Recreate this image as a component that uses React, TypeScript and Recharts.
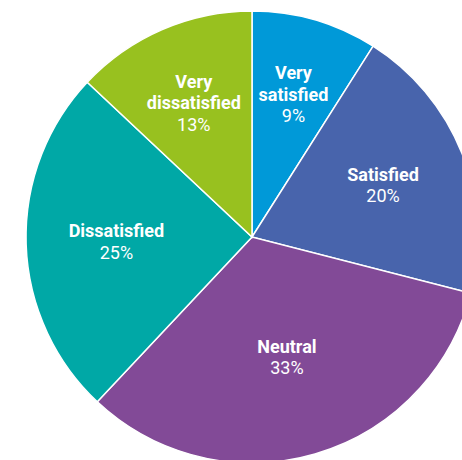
import { PieChart, Pie, Cell } from 'recharts'

const categories = ['Very satisfied', 'Satisfied', 'Neutral', 'Dissatisfied', 'Very dissatisfied']
const shares = [9, 20, 33, 25, 13]
const colors = ['#0099d8', '#4864ac', '#824a97', '#00a8a6', '#98c11f']

const data = categories.map((name, i) => ({ name, value: shares[i] }))

const RADIAN = Math.PI / 180

// "Very ..." labels wrap after the first word
function splitName(name: string) {
  return name.startsWith('Very ') ? ['Very', name.slice(5)] : [name]
}

// label sits on the slice's centroid
function renderLabel(props: any) {
  const { cx, cy, midAngle, outerRadius, startAngle, endAngle, name, value } = props
  const half = (Math.abs(endAngle - startAngle) / 2) * RADIAN
  const r = (2 * outerRadius * Math.sin(half)) / (3 * half)
  const x = cx + r * Math.cos(-midAngle * RADIAN)
  const y = cy + r * Math.sin(-midAngle * RADIAN)
  const lines = splitName(name)
  const lh = 21.5
  const total = lines.length + 1
  const top = y - ((total - 1) * lh) / 2
  return (
    <text x={x} textAnchor="middle" fill="#fff" fontFamily="Roboto" fontSize={18}>
      {lines.map((l, i) => (
        <tspan key={i} x={x} y={top + i * lh} fontWeight="bold" dominantBaseline="central">
          {l}
        </tspan>
      ))}
      <tspan x={x} y={top + lines.length * lh} dominantBaseline="central">
        {value}%
      </tspan>
    </text>
  )
}

function App() {
  return (
    <div style={{ position: 'absolute', left: 0, top: 0, width: 462, height: 460 }}>
      <style>{'.recharts-surface { overflow: visible; }'}</style>
      <PieChart width={462} height={460} margin={{ top: 0, right: 0, bottom: 0, left: 0 }}>
        <Pie
          data={data}
          dataKey="value"
          nameKey="name"
          cx={252}
          cy={237}
          outerRadius={226}
          startAngle={90}
          endAngle={-270}
          stroke="#fff"
          strokeWidth={1.5}
          label={renderLabel}
          labelLine={false}
          isAnimationActive={false}
        >
          {data.map((d, i) => (
            <Cell key={d.name} fill={colors[i]} />
          ))}
        </Pie>
      </PieChart>
    </div>
  )
}

export default App
